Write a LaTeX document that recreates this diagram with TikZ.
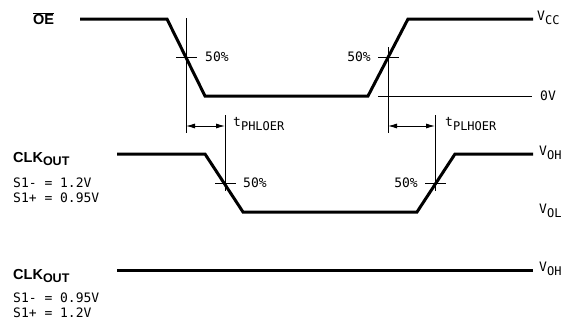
\documentclass[tikz,border=0pt]{standalone}
\usepackage{fontspec}
\setmainfont{Liberation Sans}
\newfontfamily\wavefont{DejaVu Sans Mono}
\usetikzlibrary{arrows.meta}
\newcommand{\lowsub}[1]{\raisebox{-0.5ex}{\fontsize{12}{13}\selectfont #1}}
\newcommand{\boldsub}[1]{\raisebox{-0.5ex}{\fontsize{12.5}{14}\selectfont\bfseries #1}}

\begin{document}
\begin{tikzpicture}[x=1pt, y=-1pt,
		wave/.style={line width=3pt},
		guide/.style={line width=0.9pt},
		dim/.style={line width=0.9pt, {Latex[length=9pt,width=5pt]}-{Latex[length=9pt,width=5pt]}},
		lbl/.style={font=\wavefont\fontsize{13}{15}\selectfont, inner sep=0pt},
		sig/.style={font=\fontsize{14.5}{16}\selectfont\bfseries, inner sep=0pt}]
		\useasboundingbox (0,0) rectangle (566,327);
		% OE waveform
		\coordinate (oe0) at (80,19);
		\coordinate (oe1) at (167,19);
		\coordinate (oe2) at (205,96);
		\coordinate (oe3) at (368,96);
		\coordinate (oe4) at (408,19);
		\coordinate (oe5) at (533,19);
		\draw[wave] (oe0) -- (oe1) -- (oe2) -- (oe3) -- (oe4) -- (oe5);
		% CLK_OUT waveforms
		\coordinate (ck0) at (117,154);
		\coordinate (ck1) at (205,154);
		\coordinate (ck2) at (243,212);
		\coordinate (ck3) at (417,212);
		\coordinate (ck4) at (455,154);
		\coordinate (ck5) at (533,154);
		\draw[wave] (ck0) -- (ck1) -- (ck2) -- (ck3) -- (ck4) -- (ck5);
		\coordinate (cs0) at (117,270);
		\coordinate (cs1) at (533,270);
		\draw[wave] (cs0) -- (cs1);
		% 50% markers and timing guides
		\coordinate (fa) at (186,57);
		\coordinate (ra) at (388,57);
		\coordinate (fb) at (225,183);
		\coordinate (rb) at (435,183);
		\draw[guide] (186,18) -- (186,133);
		\draw[guide] (388,47) -- (388,133);
		\draw[guide] (225,115) -- (225,191);
		\draw[guide] (435,115) -- (435,191);
		\draw[guide] ([xshift=-10pt]fa) -- ([xshift=11pt]fa);
		\draw[guide] ([xshift=-10pt]ra) -- ([xshift=11pt]ra);
		\draw[guide] ([xshift=-10pt]fb) -- ([xshift=11pt]fb);
		\draw[guide] ([xshift=-10pt]rb) -- ([xshift=11pt]rb);
		\coordinate (zl) at (378,96);
		\coordinate (zr) at (532,96);
		\draw[guide] (zl) -- (zr);
		\coordinate (ta0) at (186,126);
		\coordinate (ta1) at (225,126);
		\coordinate (tb0) at (388,126);
		\coordinate (tb1) at (435,126);
		\draw[dim] (ta0) -- (ta1);
		\draw[dim] (tb0) -- (tb1);
		% labels
		\node[lbl, anchor=west] (pfa) at (205,57) {50\%};
		\node[lbl, anchor=east] (pra) at (371,57) {50\%};
		\node[lbl, anchor=west] (pfb) at (243,183) {50\%};
		\node[lbl, anchor=east] (prb) at (418,183) {50\%};
		\node[lbl, anchor=west] (tphl) at (233,124) {t\lowsub{PHLOER}};
		\node[lbl, anchor=west] (tplh) at (445,124) {t\lowsub{PLHOER}};
		\node[lbl, anchor=west] (vcc) at (537,18) {V\lowsub{CC}};
		\node[lbl, anchor=west] (zero) at (540,96) {0V};
		\node[lbl, anchor=west] (voh) at (539,153) {V\lowsub{OH}};
		\node[lbl, anchor=west] (vol) at (539,211) {V\lowsub{OL}};
		\node[lbl, anchor=west] (voh2) at (539,269) {V\lowsub{OH}};
		\node[sig, anchor=west] (oe) at (33,19) {$\overline{\mbox{OE}}$};
		\node[sig, anchor=west] (clka) at (13,159) {CLK\boldsub{OUT}};
		\node[lbl, anchor=west] (sma) at (13,183) {S1- = 1.2V};
		\node[lbl, anchor=west] (spa) at (13,198) {S1+ = 0.95V};
		\node[sig, anchor=west] (clkb) at (13,276) {CLK\boldsub{OUT}};
		\node[lbl, anchor=west] (smb) at (13,298) {S1- = 0.95V};
		\node[lbl, anchor=west] (spb) at (13,313) {S1+ = 1.2V};
	\end{tikzpicture}
\end{document}
